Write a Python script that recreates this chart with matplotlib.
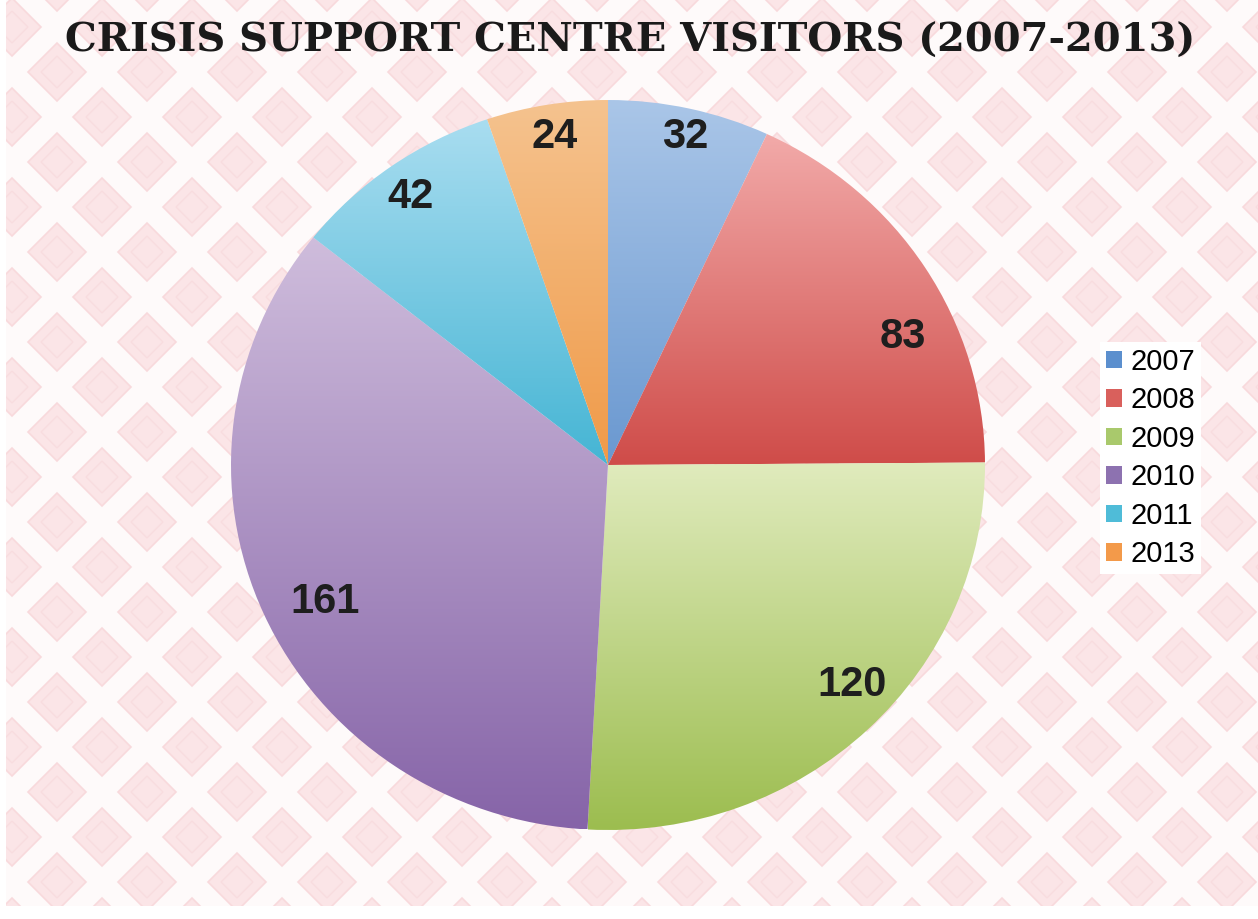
import numpy as np
import matplotlib
matplotlib.use("Agg")
import matplotlib.pyplot as plt
from matplotlib.colors import LinearSegmentedColormap
from matplotlib.patches import Polygon, Rectangle, Patch

# ---- data ----
years = ["2007", "2008", "2009", "2010", "2011", "2013"]
visitors = [32, 83, 120, 161, 42, 24]
title = "CRISIS SUPPORT CENTRE VISITORS (2007-2013)"

# ---- style ----
top_colors = ["#aac6e8", "#f2aaa9", "#e0ebbd", "#cfbddc", "#a9ddf0", "#f5c38f"]
bot_colors = ["#6a98d0", "#cf4c49", "#9cbd4f", "#8664a8", "#45b5d4", "#f09a48"]
legend_colors = ["#5b8fce", "#d9605c", "#a9c96c", "#8d72b0", "#4fbcd8", "#f39a4a"]
# label positions in normalized pie coordinates (layout)
label_pos = [(0.204, 0.899), (0.782, 0.351), (0.647, -0.603),
             (-0.751, -0.375), (-0.525, 0.734), (-0.141, 0.899)]

W, H = 1258, 919
fig = plt.figure(figsize=(W / 100, H / 100), dpi=100)
fig.patch.set_facecolor("white")

# ---- background pattern ----
bg = fig.add_axes([0, 0, 1, 1])
bg.set_xlim(0, W)
bg.set_ylim(H, 0)
bg.axis("off")
bg.add_patch(Rectangle((6, 0), W - 6, 906, facecolor="#fefafa", edgecolor="none", zorder=0))
d = 29
for cy0, cx0 in [(162, 57), (207, 102)]:
    for j in range(-3, 12):
        for i in range(-2, 16):
            cx = cx0 + 90 * i
            cy = cy0 + 90 * j
            bg.add_patch(Polygon([(cx, cy - d), (cx + d, cy), (cx, cy + d), (cx - d, cy)],
                                 closed=True, facecolor="#fbe5e7", edgecolor="#f8d9dc",
                                 linewidth=1.2, zorder=1))
            e = d * 0.55
            bg.add_patch(Polygon([(cx, cy - e), (cx + e, cy), (cx, cy + e), (cx - e, cy)],
                                 closed=True, facecolor="none", edgecolor="#f8dcdf",
                                 linewidth=1.0, zorder=1))
# white frame margins
bg.add_patch(Rectangle((0, 0), 6, H, facecolor="white", edgecolor="none", zorder=2))
bg.add_patch(Rectangle((0, 906), W, H - 906, facecolor="white", edgecolor="none", zorder=2))

# ---- title (fitted to the reference width) ----
t = bg.text(630, 41, title, ha="center", va="center", fontsize=30, fontweight="bold",
            family=["DejaVu Serif"], color="#1a1a1a", zorder=5)
fig.canvas.draw()
wpx = t.get_window_extent().width
t.set_fontsize(30 * 1130 / wpx)

# ---- pie ----
cx, cy, rx, ry = 608, 465, 377, 365
ax = fig.add_axes([(cx - rx) / W, (H - cy - ry) / H, 2 * rx / W, 2 * ry / H])
wedges, _ = ax.pie(visitors, startangle=90, counterclock=False, radius=1,
                   wedgeprops=dict(facecolor="none", edgecolor="none"))
ax.axis("off")
ax.set_aspect("auto")
for w, c0, c1 in zip(wedges, top_colors, bot_colors):
    bb = w.get_path().get_extents(w.get_patch_transform())
    cmap = LinearSegmentedColormap.from_list("g", [c1, c0])
    grad = np.linspace(0, 1, 256).reshape(-1, 1)
    im = ax.imshow(grad, cmap=cmap, origin="lower", aspect="auto",
                   extent=[bb.x0, bb.x1, bb.y0, bb.y1], zorder=1, interpolation="bilinear")
    im.set_clip_path(w)
ax.set_xlim(-1, 1)
ax.set_ylim(-1, 1)

for v, (lx, ly) in zip(visitors, label_pos):
    ax.text(lx, ly, str(v), ha="center", va="center", fontsize=30, fontweight="bold",
            family=["Liberation Sans", "DejaVu Sans"], color="#1e1e1e", zorder=5)

# ---- legend ----
handles = [Patch(facecolor=c, edgecolor="none") for c in legend_colors]
leg = fig.legend(handles, years, loc="upper left", bbox_to_anchor=(1100 / W, 1 - 342 / H),
                 frameon=True, fancybox=False, facecolor="white", edgecolor="none",
                 framealpha=1, handlelength=0.55, handleheight=0.55,
                 handletextpad=0.3, labelspacing=0.36, borderpad=0.2, borderaxespad=0,
                 prop={"family": "Liberation Sans", "size": 21})

fig.savefig("out.png", dpi=100)
